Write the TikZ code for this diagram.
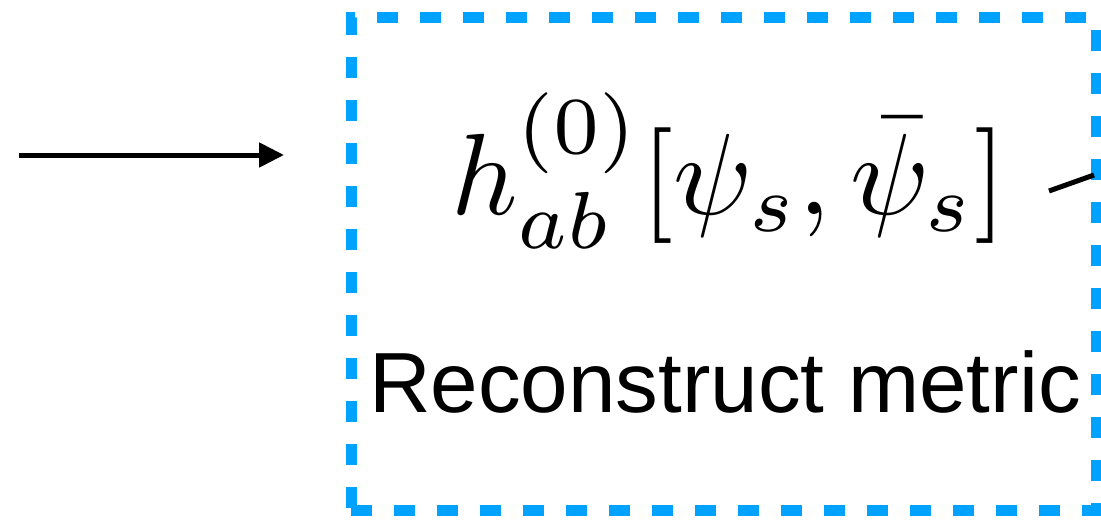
\documentclass[tikz,border=0pt]{standalone}
\usepackage{xcolor}
\usepackage{graphicx}
\usepackage{fontspec}
\newfontfamily\arialfont{Liberation Sans}
\usepackage{amsmath}
\usepackage{tikz}
\usetikzlibrary{positioning,arrows.meta}
\definecolor{skyblue}{RGB}{0,162,255}

\begin{document}
\begin{tikzpicture}[
  x=0.5pt, y=-0.5pt,
  frame/.style={rectangle, draw=skyblue, line width=5.5pt,
                dash pattern=on 10.5pt off 11pt, minimum width=372.5pt,
                minimum height=246pt, inner sep=0pt},
  formula/.style={inner sep=0pt, font=\normalsize},
  caption/.style={inner sep=0pt, font=\arialfont\fontsize{42.7}{48}\selectfont},
  link/.style={line width=2.5pt},
  >={Triangle[length=12.5pt,width=12pt]}
]
  \useasboundingbox (0,0) rectangle (1101,519);

  \node[frame] (box) at (723.5,264) {};
  \node[formula, anchor=base] (metric) at (729,214)
       {\scalebox{5.78}{$h^{(0)}_{ab}[\psi_s,\bar{\psi}_s]$}};
  \node[caption, anchor=base] (label) at (725,412) {Reconstruct metric};

  \coordinate (in)   at (19,155);
  \coordinate (inend) at (284,155);
  \coordinate (out)  at (1049,191);
  \coordinate (outend) at (1094,175);

  \draw[link,->] (in) -- (inend);
  \draw[link] (out) -- (outend);
\end{tikzpicture}
\end{document}
